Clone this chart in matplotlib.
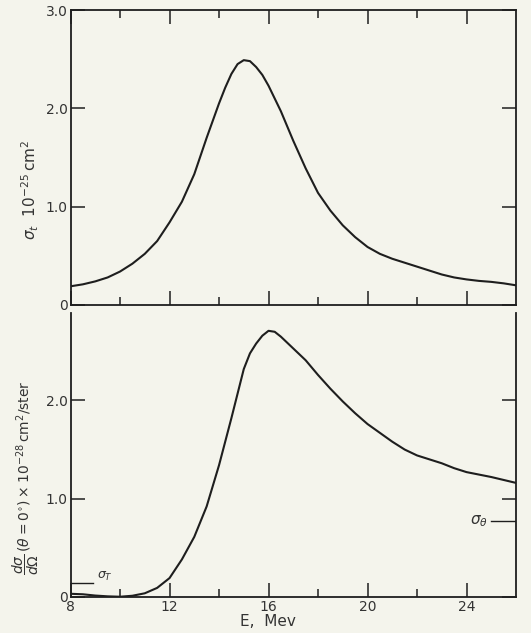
import matplotlib
matplotlib.use("Agg")
import matplotlib.pyplot as plt
from matplotlib.ticker import FixedLocator, FixedFormatter

# total cross section, 10^-25 cm^2
E_tot = [8, 8.5, 9, 9.5, 10, 10.5, 11, 11.5, 12, 12.5, 13, 13.5, 14, 14.25,
         14.5, 14.75, 15, 15.25, 15.5, 15.75, 16, 16.5, 17, 17.5, 18, 18.5,
         19, 19.5, 20, 20.5, 21, 21.5, 22, 22.5, 23, 23.5, 24, 24.5, 25,
         25.5, 26]
sigma_tot = [0.19, 0.21, 0.24, 0.28, 0.34, 0.42, 0.52, 0.65, 0.84, 1.05,
             1.33, 1.70, 2.05, 2.21, 2.35, 2.45, 2.49, 2.48, 2.42, 2.34,
             2.23, 1.97, 1.67, 1.39, 1.14, 0.96, 0.81, 0.69, 0.59, 0.52,
             0.47, 0.43, 0.39, 0.35, 0.31, 0.28, 0.26, 0.245, 0.235, 0.22,
             0.20]

# forward differential cross section, 10^-28 cm^2/ster
E_diff = [8, 8.5, 9, 9.5, 10, 10.5, 11, 11.5, 12, 12.5, 13, 13.5, 14, 14.5,
          14.75, 15, 15.25, 15.5, 15.75, 16, 16.25, 16.5, 17, 17.5, 18, 18.5,
          19, 19.5, 20, 20.5, 21, 21.5, 22, 22.5, 23, 23.5, 24, 24.5, 25,
          25.5, 26]
dsig_diff = [0.03, 0.025, 0.012, 0.004, 0.0, 0.01, 0.035, 0.09, 0.19, 0.38,
             0.61, 0.92, 1.34, 1.82, 2.07, 2.32, 2.48, 2.58, 2.66, 2.71,
             2.70, 2.65, 2.53, 2.41, 2.26, 2.12, 1.99, 1.87, 1.76, 1.67,
             1.58, 1.50, 1.44, 1.40, 1.36, 1.31, 1.27, 1.245, 1.22, 1.19,
             1.16]

sigma_T_level = 0.136      # Thomson level, lower panel
sigma_theta_level = 0.77   # sigma_theta marker, lower panel

x_major = [8, 12, 16, 20, 24]
x_minor = [10, 14, 18, 22]

bg = '#f4f4ec'
ink = '#1e1e1e'
plt.rcParams['font.family'] = ['DejaVu Sans']
plt.rcParams['mathtext.fontset'] = 'dejavusans'

fig = plt.figure(figsize=(5.31, 6.33), dpi=100, facecolor=bg)
ax1 = fig.add_axes([0.1328, 0.5182, 0.839, 0.466], facecolor=bg)
ax2 = fig.add_axes([0.1328, 0.0573, 0.839, 0.448], facecolor=bg)

ax1.plot(E_tot, sigma_tot, color=ink, lw=1.5, solid_joinstyle='round')
ax2.plot(E_diff, dsig_diff, color=ink, lw=1.5, solid_joinstyle='round')

for ax in (ax1, ax2):
    ax.set_xlim(8, 26)
    for s in ax.spines.values():
        s.set_color(ink)
        s.set_linewidth(1.3)
    ax.xaxis.set_major_locator(FixedLocator(x_major))
    ax.xaxis.set_minor_locator(FixedLocator(x_minor))
    ax.tick_params(which='major', direction='in', length=10, width=1.1,
                   color=ink, labelsize=10, labelcolor='#333333', pad=2)
    ax.tick_params(which='minor', direction='in', length=6, width=1.1,
                   color=ink)

# upper panel
ax1.set_ylim(0, 3.0)
ax1.yaxis.set_major_locator(FixedLocator([0, 1, 2, 3]))
ax1.yaxis.set_major_formatter(FixedFormatter(['0', '1.0', '2.0', '3.0']))
ax1.tick_params(which='both', top=True, right=True, labelbottom=False)
ax1.set_ylabel(r'$\sigma_t$  $10^{-25}\,\mathrm{cm}^2$', fontsize=11,
               color='#333333')
ax1.yaxis.set_label_coords(-0.066, 0.39)

# lower panel
ax2.set_ylim(0, 2.89)
ax2.spines['top'].set_visible(False)
ax2.yaxis.set_major_locator(FixedLocator([0, 1, 2]))
ax2.yaxis.set_major_formatter(FixedFormatter(['0', '1.0', '2.0']))
ax2.tick_params(which='both', top=False, right=True)
ax2.set_ylabel(r'$\dfrac{d\sigma}{d\Omega}\,(\theta=0^{\circ})\times10^{-28}\,'
               r'\mathrm{cm}^2/\mathrm{ster}$', fontsize=10, color='#333333')
ax2.yaxis.set_label_coords(-0.066, 0.42)
ax2.set_xlabel('E,  Mev', fontsize=11, color='#333333', labelpad=2)
ax2.xaxis.set_label_coords(0.443, -0.06)

ax2.plot([8, 8.9], [sigma_T_level] * 2, color=ink, lw=1)
ax2.text(9.05, sigma_T_level, r'$\sigma_T$', fontsize=9, color='#333333',
         va='bottom', ha='left')
ax2.plot([25, 26], [sigma_theta_level] * 2, color=ink, lw=1)
ax2.text(24.85, sigma_theta_level, r'$\sigma_\theta$', fontsize=11,
         color='#333333', va='center', ha='right')

fig.savefig('out.png', dpi=100, facecolor=bg)
